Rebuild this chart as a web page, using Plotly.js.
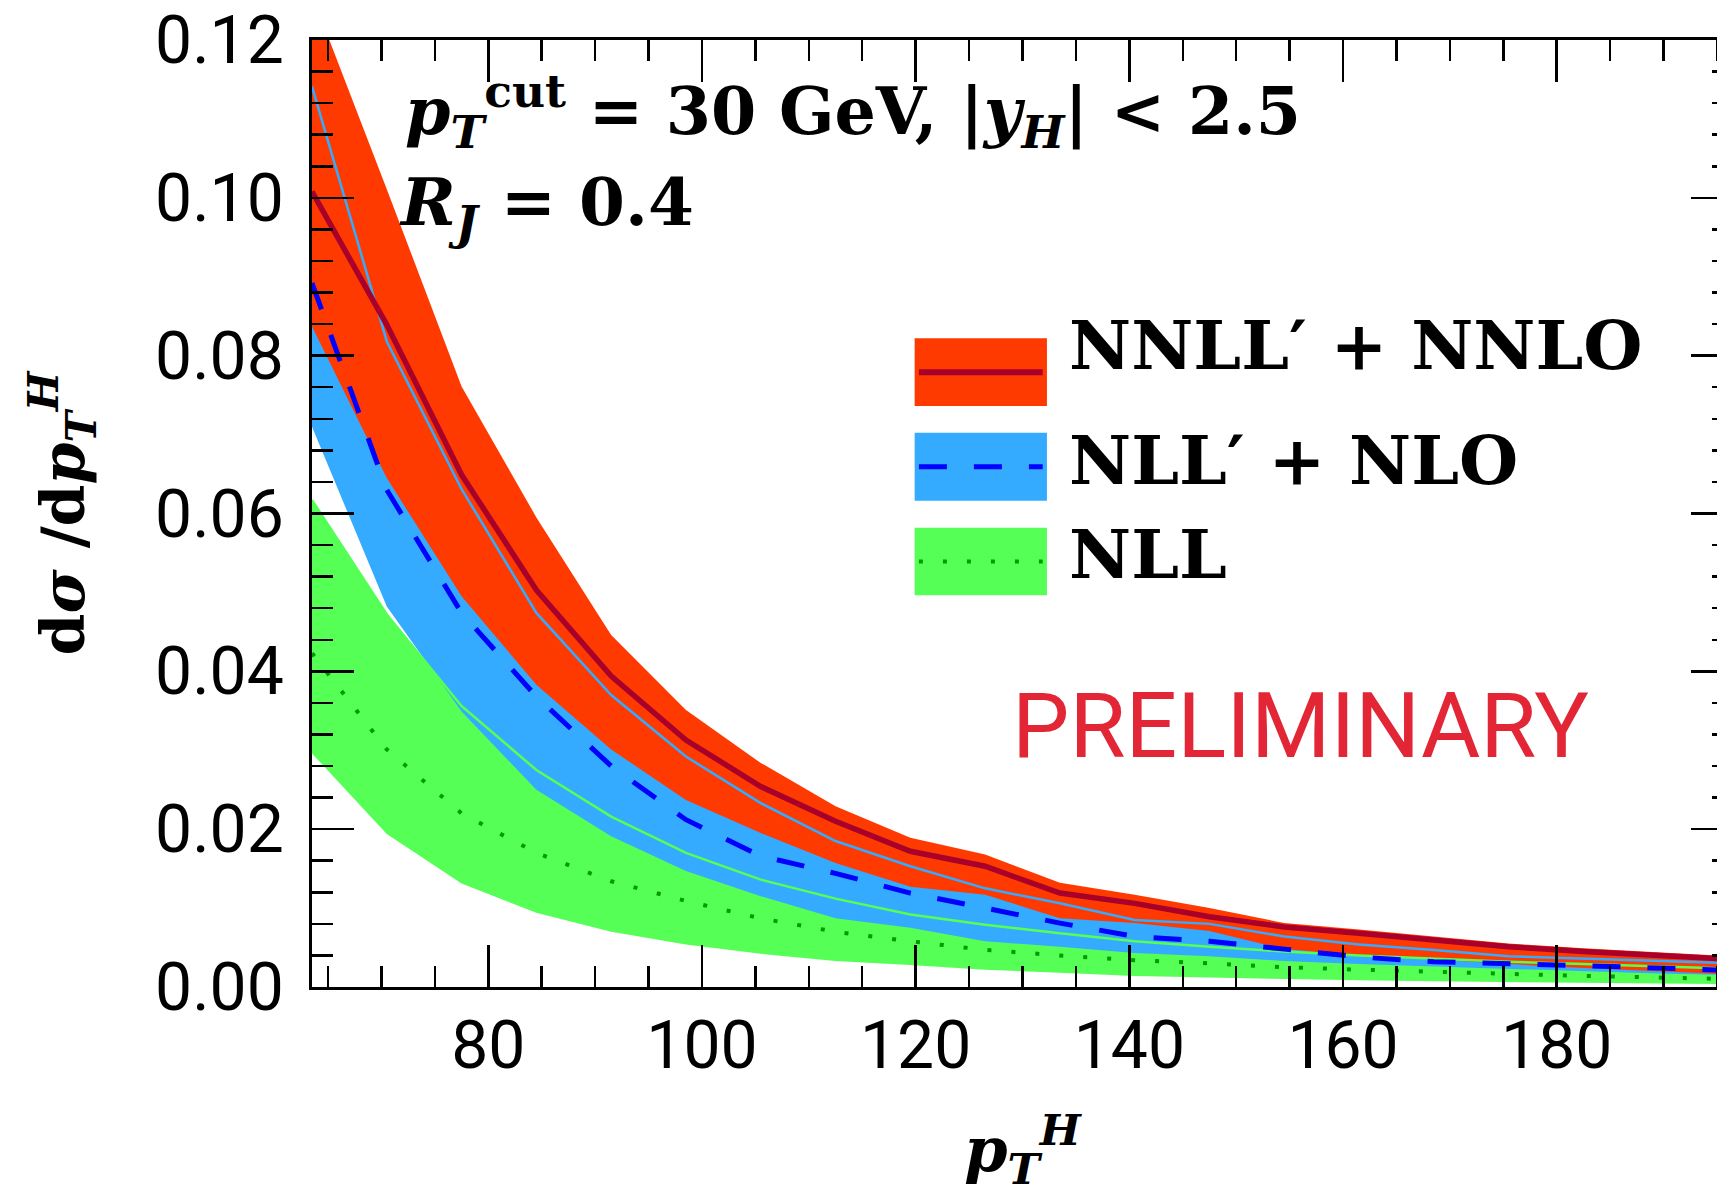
<!DOCTYPE html>
<html>
<head>
<meta charset="utf-8">
<script src="https://cdn.plot.ly/plotly-3.0.1.min.js"></script>
<style>
html, body { margin: 0; padding: 0; overflow: hidden; background: #fff; }
#chart { width: 1740px; height: 1194px; }
</style>
</head>
<body>
<div id="chart"></div>
<script>
// p_T^H bin centres (GeV)
const pt = [63.5, 70.5, 77.5, 84.5, 91.5, 98.5, 105.5, 112.5, 119.5, 126.5, 133.5, 140.5, 147.5, 154.5, 161.5, 168.5, 175.5, 182.5, 189.5, 196.5];

// NNLL' + NNLO
const nnllUp  = [0.1257, 0.1011, 0.0761, 0.0595, 0.0446, 0.0351, 0.0284, 0.0229, 0.0189, 0.0168, 0.0132, 0.0117, 0.0100, 0.0081, 0.0073, 0.0064, 0.0055, 0.0049, 0.0044, 0.0039];
const nnllMid = [0.1008, 0.0839, 0.0649, 0.0503, 0.0394, 0.0313, 0.0254, 0.0210, 0.0172, 0.0153, 0.0119, 0.0106, 0.0089, 0.0076, 0.0068, 0.0060, 0.0051, 0.0045, 0.0040, 0.0035];
const nnllLow = [0.0837, 0.0645, 0.0495, 0.0383, 0.0301, 0.0237, 0.0195, 0.0157, 0.0127, 0.0117, 0.0087, 0.0081, 0.0071, 0.0048, 0.0040, 0.0035, 0.0029, 0.0024, 0.0020, 0.0016];

// NLL' + NLO
const nllpUp  = [0.1141, 0.0818, 0.0631, 0.0474, 0.0370, 0.0292, 0.0233, 0.0185, 0.0153, 0.0125, 0.0106, 0.0085, 0.0080, 0.0064, 0.0054, 0.0047, 0.0039, 0.0036, 0.0033, 0.0030];
const nllpMid = [0.0892, 0.0630, 0.0474, 0.0368, 0.0280, 0.0212, 0.0166, 0.0144, 0.0119, 0.0100, 0.0081, 0.0064, 0.0058, 0.0048, 0.0038, 0.0032, 0.0030, 0.0027, 0.0024, 0.0021];
const nllpLow = [0.0710, 0.0482, 0.0349, 0.0250, 0.0191, 0.0147, 0.0115, 0.0087, 0.0075, 0.0058, 0.0051, 0.0043, 0.0039, 0.0033, 0.0029, 0.0026, 0.0023, 0.0020, 0.0017, 0.0015];

// NLL
const nllUp  = [0.0617, 0.0472, 0.0356, 0.0275, 0.0216, 0.0170, 0.0136, 0.0112, 0.0092, 0.0079, 0.0068, 0.0058, 0.0051, 0.0045, 0.0040, 0.0036, 0.0032, 0.0029, 0.0026, 0.0023];
const nllMid = [0.0423, 0.0301, 0.0220, 0.0170, 0.0134, 0.0109, 0.0087, 0.0070, 0.0058, 0.0047, 0.0040, 0.0034, 0.0030, 0.0025, 0.0022, 0.0019, 0.0016, 0.0014, 0.0012, 0.0010];
const nllLow = [0.0296, 0.0194, 0.0131, 0.0094, 0.0070, 0.0054, 0.0042, 0.0033, 0.0028, 0.0022, 0.0018, 0.0014, 0.0012, 0.0010, 0.00085, 0.00072, 0.00062, 0.00052, 0.00044, 0.00037];

const legendNames = ["NNLL\u2032 + NNLO", "NLL\u2032 + NLO", "NLL"];
const yTickVals = [0, 0.02, 0.04, 0.06, 0.08, 0.10, 0.12];

const cRed = "#FF3A00", cRedLine = "#A8002A";
const cBlue = "#35ABFF", cBlueLine = "#0000FF";
const cGreen = "#55FF55", cGreenLine = "#009A00";

function band(y, fill, col) {
  return { x: pt, y: y, type: "scatter", mode: "lines", line: { width: 0, color: col },
           fill: fill, fillcolor: col, showlegend: false, hoverinfo: "skip" };
}
function line(y, col, w, dash) {
  return { x: pt, y: y, type: "scatter", mode: "lines", line: { width: w, color: col, dash: dash || "solid" },
           showlegend: false, hoverinfo: "skip" };
}

const traces = [
  band(nllLow, "none", cGreen), band(nllUp, "tonexty", cGreen),
  band(nllpLow, "none", cBlue), band(nllpUp, "tonexty", cBlue),
  band(nnllLow, "none", cRed), band(nnllUp, "tonexty", cRed),
  line(nllpUp, cBlue, 2.5),
  line(nllUp, cGreen, 2.5),
  line(nllMid, cGreenLine, 4, "4px,20px"),
  line(nllpMid, cBlueLine, 5, "28px,27px"),
  line(nnllMid, cRedLine, 5.5)
];

// legend (drawn as layout shapes + text)
const legX0 = 0.4241, legX1 = 0.5172;
const legRows = [
  { y0: 0.6135, y1: 0.685, fill: cRed, line: cRedLine, w: 6, dash: "solid", ty: 0.678 },
  { y0: 0.5135, y1: 0.5853, fill: cBlue, line: cBlueLine, w: 5, dash: "28px,27px", ty: 0.557 },
  { y0: 0.4136, y1: 0.485, fill: cGreen, line: cGreenLine, w: 4, dash: "4px,20px", ty: 0.4572 }
];
const shapes = [];
const annotations = [];
legRows.forEach((r, i) => {
  shapes.push({ type: "rect", xref: "paper", yref: "paper", x0: legX0, x1: legX1, y0: r.y0, y1: r.y1,
                fillcolor: r.fill, line: { width: 0 }, layer: "above" });
  const ym = (r.y0 + r.y1) / 2;
  shapes.push({ type: "line", xref: "paper", yref: "paper", x0: legX0 + 0.003, x1: legX1 - 0.003, y0: ym, y1: ym,
                line: { color: r.line, width: r.w, dash: r.dash }, layer: "above" });
  annotations.push({ xref: "paper", yref: "paper", x: 0.5312, y: r.ty, xanchor: "left", yanchor: "middle",
                     showarrow: false, text: "<b>" + legendNames[i] + "</b>",
                     font: { family: "DejaVu Serif", size: 68, color: "#000" } });
});

annotations.push({ xref: "paper", yref: "paper", x: 0.064, y: 0.924, xanchor: "left", yanchor: "middle", showarrow: false,
  text: "<b><i>p</i><sub><i>T</i></sub><sup>cut</sup> = 30 GeV, |<i>y</i><sub><i>H</i></sub>| &lt; 2.5</b>",
  font: { family: "DejaVu Serif", size: 65, color: "#000" } });
annotations.push({ xref: "paper", yref: "paper", x: 0.060, y: 0.8247, xanchor: "left", yanchor: "middle", showarrow: false,
  text: "<b><i>R</i><sub><i>J</i></sub> = 0.4</b>",
  font: { family: "DejaVu Serif", size: 66, color: "#000" } });
annotations.push({ xref: "paper", yref: "paper", x: 0.6953, y: 0.2758, xanchor: "center", yanchor: "middle", showarrow: false,
  text: "PRELIMINARY", font: { family: "Roboto", size: 91, color: "#E32636" } });

const axisCommon = {
  showline: true, linewidth: 3, linecolor: "#000", mirror: "ticks",
  ticks: "inside", ticklen: 42, tickwidth: 2.5, tickcolor: "#000",
  showgrid: false, zeroline: false,
  tickfont: { family: "Roboto", size: 66, color: "#000" }
};

const layout = {
  width: 1740, height: 1194,
  margin: { l: 312, r: 7, t: 40, b: 207 },
  paper_bgcolor: "#fff", plot_bgcolor: "#fff",
  showlegend: false,
  xaxis: Object.assign({}, axisCommon, {
    range: [63.5, 196.5], tickmode: "linear", tick0: 80, dtick: 20,
    minor: { ticks: "inside", ticklen: 21, tickwidth: 2.5, tickcolor: "#000", dtick: 5, tick0: 80, showgrid: false },
    ticklabelstandoff: -1,
    title: { text: "<b><i>p</i><sub><i>T</i></sub><sup><i>H</i></sup></b>", standoff: 70,
             font: { family: "DejaVu Serif", size: 62, color: "#000" } }
  }),
  yaxis: Object.assign({}, axisCommon, {
    range: [0, 0.12], tickmode: "array", tickvals: yTickVals, tickformat: ".2f",
    minor: { ticks: "inside", ticklen: 21, tickwidth: 2.5, tickcolor: "#000", dtick: 0.004, tick0: 0, showgrid: false },
    ticklabelstandoff: 12,
    title: { text: "<b>d<i>σ</i> /d<i>p</i><sub><i>T</i></sub><sup><i>H</i></sup></b>", standoff: 52,
             font: { family: "DejaVu Serif", size: 60, color: "#000" } }
  }),
  shapes: shapes,
  annotations: annotations
};

Plotly.newPlot("chart", traces, layout, { displayModeBar: false, staticPlot: true });
</script>
</body>
</html>
